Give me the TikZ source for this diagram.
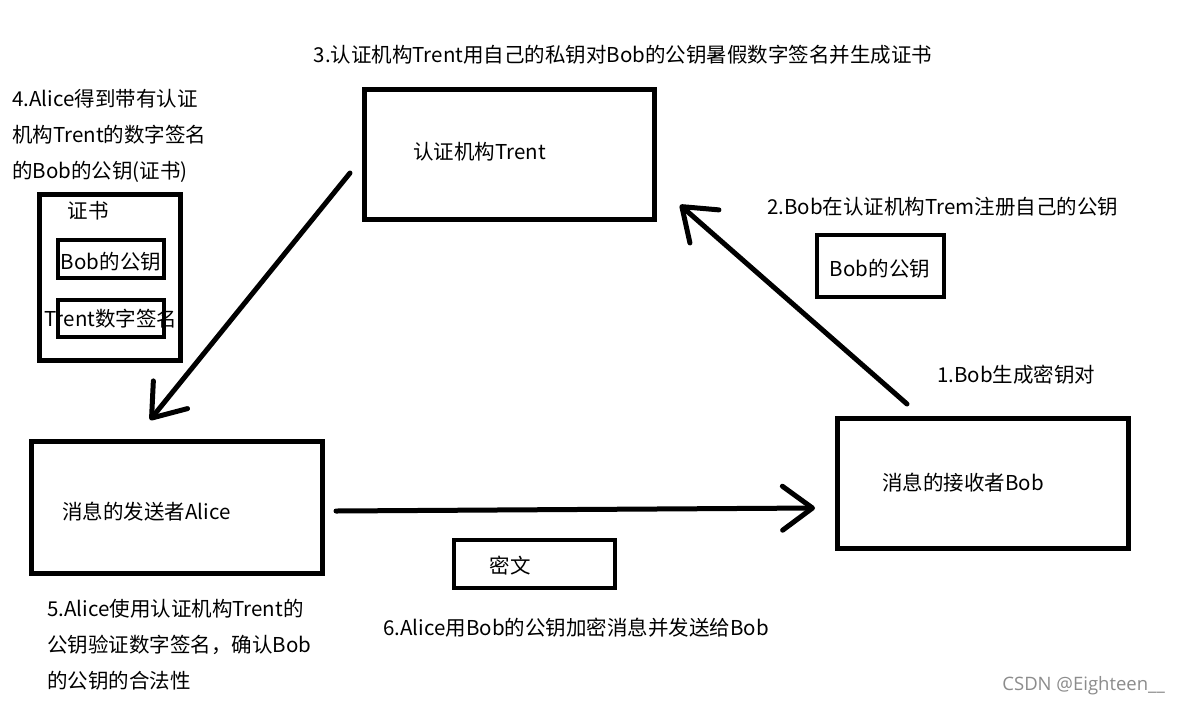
\documentclass[tikz,border=0pt]{standalone}
\usepackage{fontspec}
\setmainfont{Noto Sans CJK SC}
\newfontfamily\wmfont{Open Sans}
\usetikzlibrary{arrows.meta,positioning}

\begin{document}
\begin{tikzpicture}[x=1pt,y=-1pt,
  box/.style={draw, line width=5pt, inner sep=0pt},
  kbox/.style={draw, line width=4pt, inner sep=0pt},
  txt/.style={inner sep=0pt, font=\fontsize{20.5}{36}\selectfont},
  flow/.style={line width=5pt, line cap=round,
    -{Straight Barb[length=30pt,width=44pt,line width=5pt,round]}}]
  \useasboundingbox[fill=white] (0,0) rectangle (1180,705);

  \node[box, minimum width=290pt, minimum height=130pt] (trent) at (509.5,154.5) {}; %Trent box
  \node[txt, anchor=west] (trenttxt) at (413,152) {认证机构Trent};
  \node[txt] (step3) at (623,55) {3.认证机构Trent用自己的私钥对Bob的公钥暑假数字签名并生成证书};

  \node[box, minimum width=291pt, minimum height=132pt] (alice) at (177,507.5) {}; %Alice box
  \node[txt, anchor=west] (alicetxt) at (62,512) {消息的发送者Alice};

  \node[box, minimum width=291pt, minimum height=130pt] (bob) at (983,483.5) {};  %Bob box
  \node[txt, anchor=west] (bobtxt) at (882,483) {消息的接收者Bob};

  % certificate held by Alice
  \node[txt, anchor=west, align=left] (step4) at (12,136)
    {4.Alice得到带有认证\\机构Trent的数字签名\\的Bob的公钥(证书)};
  \node[box, minimum width=141pt, minimum height=166pt] (cert) at (110,277.5) {};
  \node[txt] (certtxt) at (88,211) {证书};
  \node[kbox, minimum width=106pt, minimum height=38pt] (certkey) at (111,259) {};
  \node[txt] (certkeytxt) at (111,262) {Bob的公钥};
  \node[kbox, minimum width=106pt, minimum height=37pt] (certsig) at (111,318.5) {};
  \node[txt] (certsigtxt) at (111,319) {Trent数字签名};

  % Bob registers his key
  \node[txt, anchor=west] (step1) at (937,375) {1.Bob生成密钥对};
  \node[txt, anchor=west] (step2) at (767,207) {2.Bob在认证机构Trem注册自己的公钥};
  \node[kbox, minimum width=127pt, minimum height=62pt] (bobkey) at (880.5,266) {};
  \node[txt] (bobkeytxt) at (880,269) {Bob的公钥};

  % ciphertext
  \node[kbox, minimum width=161pt, minimum height=48pt] (cipher) at (534.5,564) {};
  \node[txt] (ciphertxt) at (510,566) {密文};
  \node[txt] (step6) at (576,628) {6.Alice用Bob的公钥加密消息并发送给Bob};
  \node[txt, anchor=west, align=left] (step5) at (47,645)
    {5.Alice使用认证机构Trent的\\公钥验证数字签名，确认Bob\\的公钥的合法性};

  \node[anchor=east, inner sep=0pt, text=black!45,
    font=\wmfont\fontsize{18.5}{20}\selectfont] (mark) at (1165,686) {CSDN @Eighteen\_\_};

  % arrows
  \coordinate (trentout) at (350,173);
  \coordinate (alicein) at (150,420);
  \coordinate (aliceout) at (336,511);
  \coordinate (bobin) at (815,508);
  \coordinate (bobout) at (907,404);
  \coordinate (trentin) at (680,205);
  \draw[flow] (trentout) -- (alicein);
  \draw[flow] (aliceout) -- (bobin);
  \draw[flow] (bobout) -- (trentin);
\end{tikzpicture}
\end{document}
